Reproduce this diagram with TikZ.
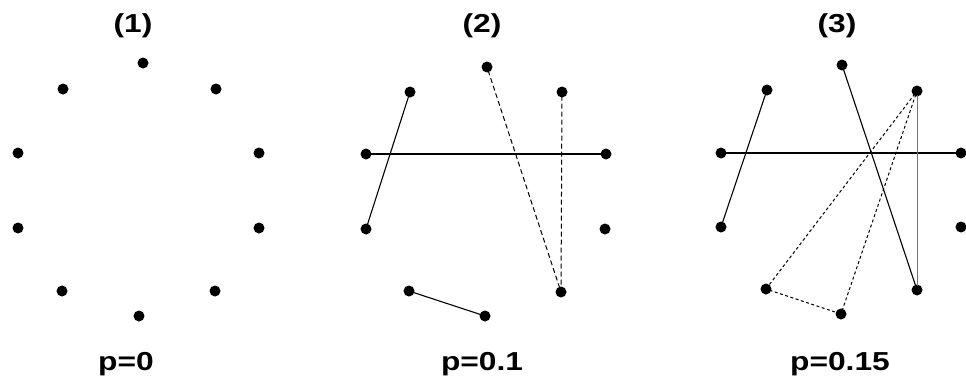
\documentclass[tikz,border=0pt]{standalone}
\usepackage{fontspec}
\setmainfont{Liberation Sans}
\newcommand{\wide}[1]{\scalebox{1.22}[1]{#1}}
\begin{document}
\begin{tikzpicture}[x=1pt,y=-1pt,
  dot/.style={circle,fill=black,inner sep=0pt,minimum size=11pt},
  lbl/.style={font=\bfseries\fontsize{26}{28}\selectfont,anchor=base,inner sep=0pt},
  edge/.style={line width=1.1pt,shorten <=-2pt,shorten >=-2pt},
  grayedge/.style={line width=0.9pt,draw=black!55,shorten <=-2pt,shorten >=-2pt},
  dashedge/.style={line width=1pt,dash pattern=on 5pt off 3pt,shorten <=-2pt,shorten >=-2pt},
  dotedge/.style={line width=1pt,dash pattern=on 3pt off 2.5pt,shorten <=-2pt,shorten >=-2pt}]
\useasboundingbox (0,0) rectangle (966,383);
% panel 1
\node[lbl] (h1) at (133,32) {\wide{(1)}};
\node[lbl] (p1) at (126,370) {\wide{p=0}};
\node[dot] (t1) at (143,63) {};
\node[dot] (ul1) at (63,89) {};
\node[dot] (ur1) at (216,89) {};
\node[dot] (lu1) at (18,153) {};
\node[dot] (ru1) at (259,153) {};
\node[dot] (ll1) at (18,228) {};
\node[dot] (rl1) at (259,228) {};
\node[dot] (bl1) at (62,291) {};
\node[dot] (br1) at (215,291) {};
\node[dot] (b1) at (139,316) {};
% panel 2
\node[lbl] (h2) at (482,32) {\wide{(2)}};
\node[lbl] (p2) at (482,370) {\wide{p=0.1}};
\node[dot] (t2) at (487,67) {};
\node[dot] (ul2) at (410,92) {};
\node[dot] (ur2) at (562,92) {};
\node[dot] (lu2) at (366,154) {};
\node[dot] (ru2) at (606,154) {};
\node[dot] (ll2) at (366,229) {};
\node[dot] (rl2) at (605,229) {};
\node[dot] (bl2) at (409,291) {};
\node[dot] (br2) at (561,292) {};
\node[dot] (b2) at (485,316) {};
\draw[edge] (ul2) -- (ll2);
\draw[edge] (lu2) -- (ru2);
\draw[edge] (bl2) -- (b2);
\draw[dashedge] (t2) -- (br2);
\draw[dashedge] (ur2) -- (br2);
% panel 3
\node[lbl] (h3) at (837,32) {\wide{(3)}};
\node[lbl] (p3) at (840,370) {\wide{p=0.15}};
\node[dot] (t3) at (842,65) {};
\node[dot] (ul3) at (767,90) {};
\node[dot] (ur3) at (917,91) {};
\node[dot] (lu3) at (721,153) {};
\node[dot] (ru3) at (961,153) {};
\node[dot] (ll3) at (721,227) {};
\node[dot] (rl3) at (961,227) {};
\node[dot] (bl3) at (766,289) {};
\node[dot] (br3) at (917,290) {};
\node[dot] (b3) at (841,314) {};
\draw[edge] (ul3) -- (ll3);
\draw[edge] (lu3) -- (ru3);
\draw[edge] (t3) -- (br3);
\draw[grayedge] (ur3) -- (br3);
\draw[dotedge] (ur3) -- (bl3);
\draw[dotedge] (ur3) -- (b3);
\draw[dotedge] (bl3) -- (b3);
\end{tikzpicture}
\end{document}
